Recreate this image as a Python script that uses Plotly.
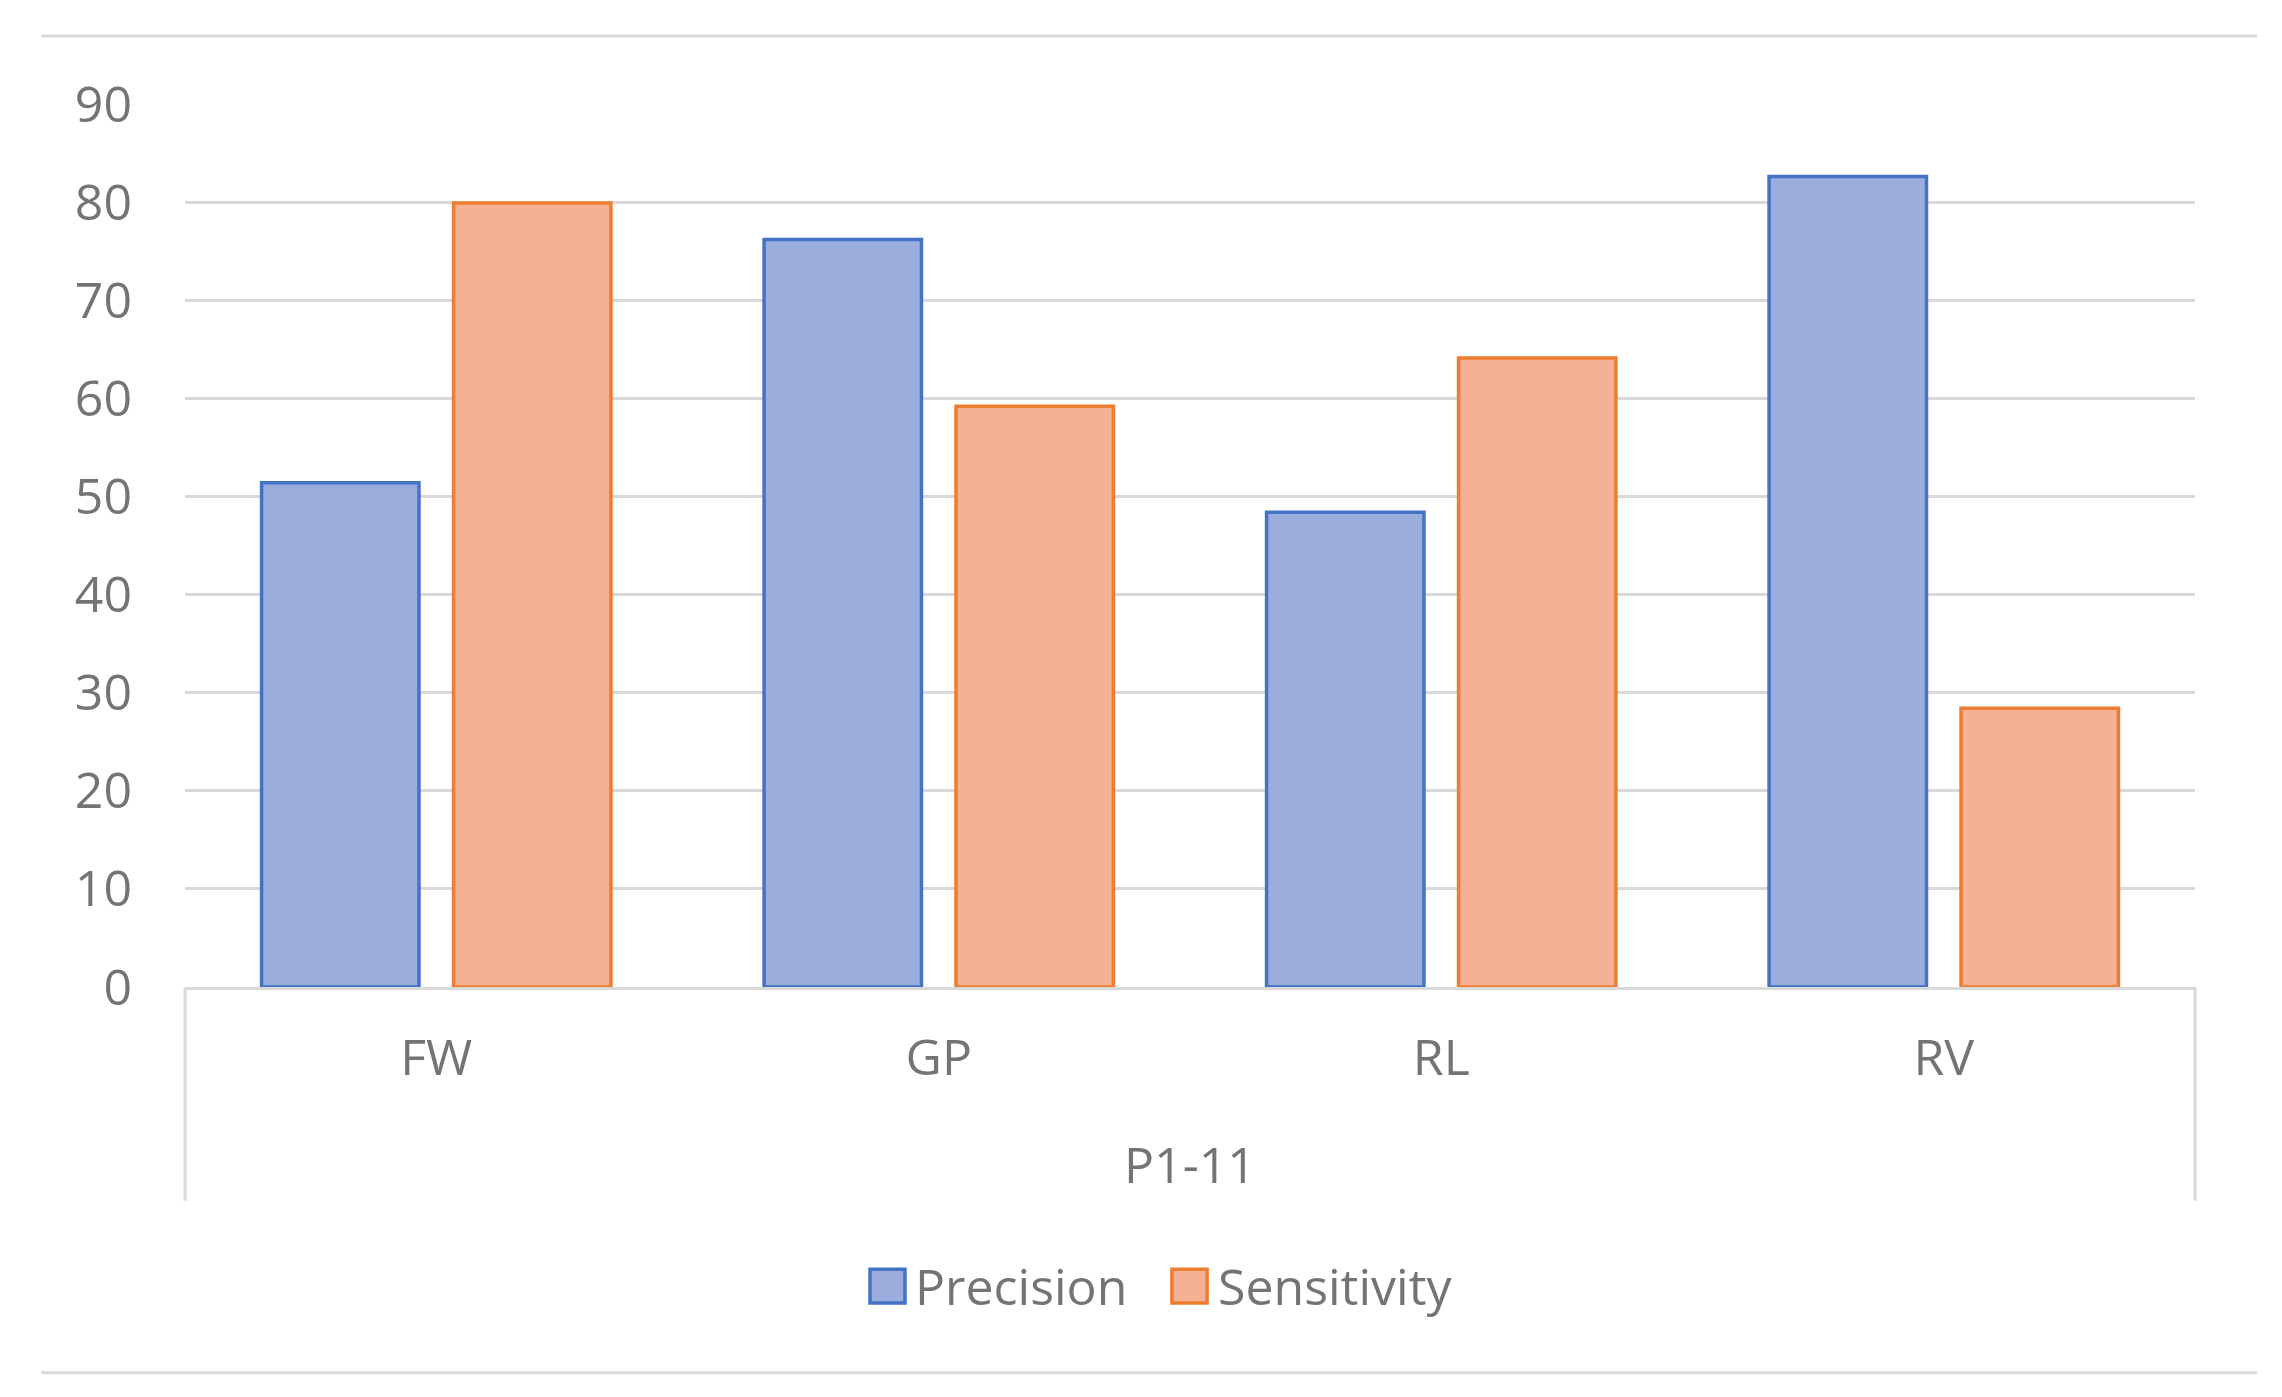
import plotly.graph_objects as go

categories = ["FW", "GP", "RL", "RV"]
group_label = "P1-11"
series_names = ["Precision", "Sensitivity"]
precision = [51.4, 76.2, 48.4, 82.6]
sensitivity = [79.9, 59.2, 64.1, 28.4]
y_ticks = [0, 10, 20, 30, 40, 50, 60, 70, 80, 90]

FONT = "Open Sans"
FS = 50
TXT = "#747474"
GRID = "#D9D9D9"
fills = ["#9BADDD", "#F5B193"]
edges = ["#4472C4", "#ED7D31"]

fig = go.Figure()
for name, vals, fc, ec in zip(series_names, [precision, sensitivity], fills, edges):
    fig.add_trace(go.Bar(
        x=categories, y=vals, name=name, showlegend=False,
        marker=dict(color=fc, line=dict(color=ec, width=3.5)),
    ))

# chart frame decorations (Excel-like multi-level category box and outline)
line_style = dict(color=GRID, width=3)
fig.add_shape(type="line", xref="paper", yref="paper", x0=0, x1=0, y0=0, y1=-0.242, line=line_style)
fig.add_shape(type="line", xref="paper", yref="paper", x0=1, x1=1, y0=0, y1=-0.242, line=line_style)
fig.add_shape(type="line", xref="paper", yref="paper", x0=-0.0716, x1=1.0308, y0=1.077, y1=1.077, line=line_style)
fig.add_shape(type="line", xref="paper", yref="paper", x0=-0.0716, x1=1.0308, y0=-0.437, y1=-0.437, line=line_style)

fig.add_annotation(text=group_label, xref="paper", yref="paper", x=0.5, y=-0.2005,
                   xanchor="center", yanchor="middle", showarrow=False,
                   font=dict(family=FONT, size=FS, color=TXT))

# legend (Excel-style large swatches)
legend_x = [(0.3408, 0.3582, 0.3622), (0.4910, 0.5085, 0.5130)]
for (sx0, sx1, tx), name, fc, ec in zip(legend_x, series_names, fills, edges):
    fig.add_shape(type="rect", xref="paper", yref="paper", x0=sx0, x1=sx1, y0=-0.3196, y1=-0.3578,
                  fillcolor=fc, line=dict(color=ec, width=3.5))
    fig.add_annotation(text=name, xref="paper", yref="paper", x=tx, y=-0.3386,
                       xanchor="left", yanchor="middle", showarrow=False,
                       font=dict(family=FONT, size=FS, color=TXT))

fig.update_layout(
    width=2282, height=1397,
    margin=dict(l=177, r=95, t=96, b=418, autoexpand=False),
    paper_bgcolor="white", plot_bgcolor="white",
    barmode="group", bargap=0.236, bargroupgap=0.18,
    font=dict(family=FONT, size=FS, color=TXT),
    showlegend=False,
    xaxis=dict(type="category", showgrid=False, showline=True, linecolor=GRID, linewidth=3,
               ticks="", ticklabelstandoff=25, tickfont=dict(family=FONT, size=FS, color=TXT)),
    yaxis=dict(range=[0, 90], tickvals=y_ticks, showgrid=True, gridcolor=GRID, gridwidth=3,
               zeroline=False, showline=False, ticks="", ticklabelstandoff=52,
               tickfont=dict(family=FONT, size=FS, color=TXT)),
)

fig.write_html("out.html")
